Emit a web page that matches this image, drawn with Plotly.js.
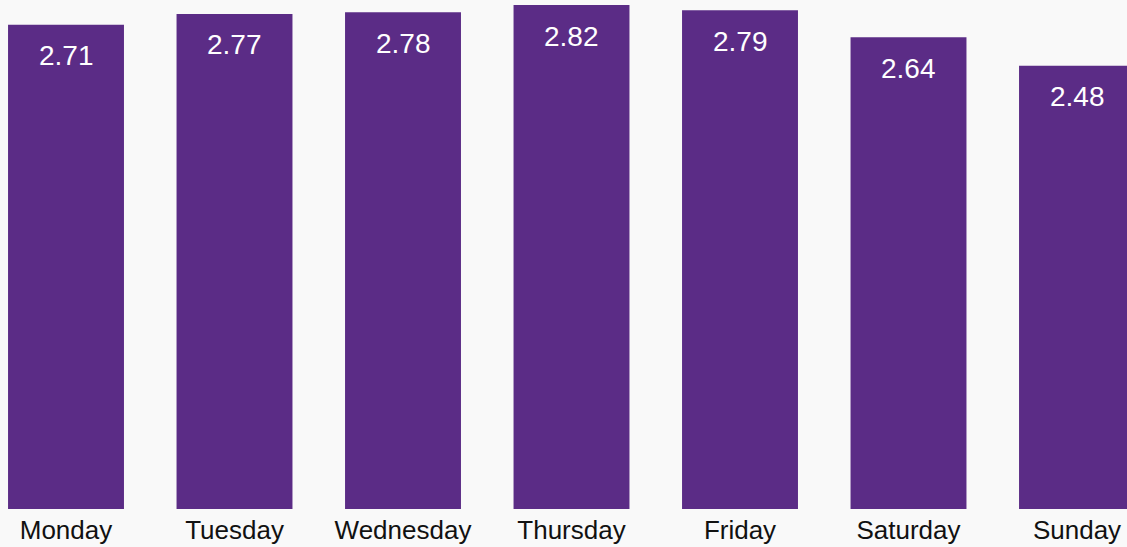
<!DOCTYPE html>
<html>
<head>
<meta charset="utf-8">
<script src="https://cdn.plot.ly/plotly-3.0.1.min.js"></script>
<style>
  html, body { margin: 0; padding: 0; background: #f9f9f9; }
  #chart { width: 1127px; height: 547px; }
</style>
</head>
<body>
<div id="chart"></div>
<script>
// Average value per weekday
const days = ["Monday", "Tuesday", "Wednesday", "Thursday", "Friday", "Saturday", "Sunday"];
const values = [2.71, 2.77, 2.78, 2.82, 2.79, 2.64, 2.48];

const barColor = "#5b2c86";
const fontFamily = "'Liberation Sans', Arial, Helvetica, sans-serif";

const trace = {
  type: "bar",
  x: days,
  y: values,
  width: 0.688,
  marker: { color: barColor },
  hoverinfo: "x+y"
};

// Value labels sit inside each bar, a little below its top
const labels = days.map((d, i) => ({
  x: d,
  y: values[i],
  text: values[i].toFixed(2),
  showarrow: false,
  xref: "x",
  yref: "y",
  yanchor: "middle",
  yshift: -31,
  font: { family: fontFamily, size: 28, color: "#ffffff" }
}));

const layout = {
  width: 1127,
  height: 547,
  margin: { l: 0, r: 0, t: 0, b: 38, pad: 0 },
  paper_bgcolor: "#f9f9f9",
  plot_bgcolor: "#f9f9f9",
  showlegend: false,
  font: { family: fontFamily, color: "#111111" },
  xaxis: {
    type: "category",
    range: [-0.3917, 6.2967],
    showgrid: false,
    zeroline: false,
    showline: false,
    ticks: "",
    ticklabelstandoff: 3,
    tickfont: { family: fontFamily, size: 26, color: "#111111" },
    fixedrange: true
  },
  yaxis: {
    range: [0, 2.848],
    showgrid: false,
    zeroline: false,
    showline: false,
    showticklabels: false,
    ticks: "",
    fixedrange: true
  },
  annotations: labels
};

Plotly.newPlot("chart", [trace], layout, { displayModeBar: false, staticPlot: true });
</script>
</body>
</html>
